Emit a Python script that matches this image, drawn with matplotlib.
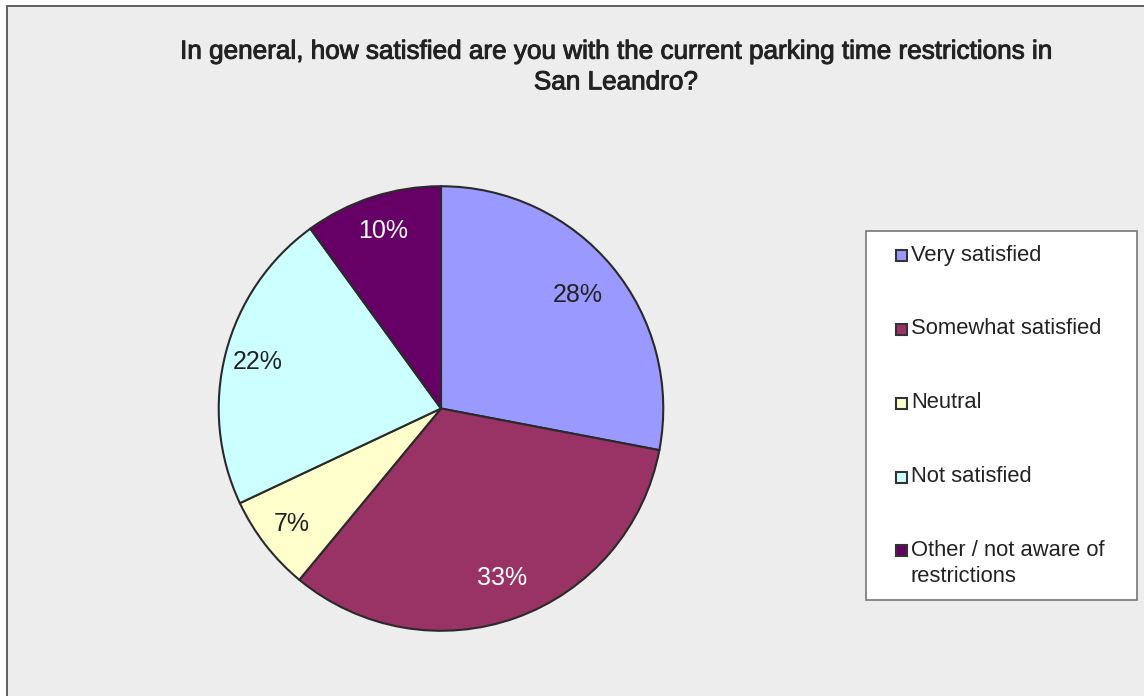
import matplotlib
matplotlib.use("Agg")
import matplotlib.pyplot as plt
from matplotlib.patches import Rectangle
import matplotlib.patheffects as pe
import numpy as np

categories = ["Very satisfied", "Somewhat satisfied", "Neutral", "Not satisfied",
              "Other / not aware of\nrestrictions"]
values = [28, 33, 7, 22, 10]
pct_labels = ["28%", "33%", "7%", "22%", "10%"]
colors = ["#9999FF", "#993366", "#FFFFCC", "#CCFFFF", "#660066"]
label_colors = ["#222222", "#FFFFFF", "#222222", "#222222", "#FFFFFF"]
title = "In general, how satisfied are you with the current parking time restrictions in\nSan Leandro?"

plt.rcParams['font.family'] = ['Liberation Sans', 'DejaVu Sans']

W, H = 1144, 696
fig = plt.figure(figsize=(W / 100, H / 100), dpi=100)
fig.patch.set_facecolor("white")

def fx(px):
    return px / W

def fy(py):
    return 1 - py / H

# Chart area background with border
fig.patches.append(Rectangle((fx(7), fy(H + 10)), fx(W + 20) - fx(7), fy(6) - fy(H + 10),
                             transform=fig.transFigure, facecolor="#EDEDED",
                             edgecolor="#555555", linewidth=1.3, zorder=-10))

# Pie
cx, cy, r = 441, 408.5, 224.5
ax = fig.add_axes([fx(cx - r), fy(cy + r), (2 * r) / W, (2 * r) / H])
ax.set_zorder(2)
ax.set_facecolor("none")
wedges, _ = ax.pie(values, colors=colors, startangle=90, counterclock=False,
                   wedgeprops=dict(edgecolor="#2a2a2a", linewidth=1.5),
                   radius=1)
ax.set_xlim(-1.01, 1.01)
ax.set_ylim(-1.01, 1.01)
ax.set_aspect("auto")
ax.axis("off")

dists = [0.8, 0.81, 0.85, 0.85, 0.84]
for w, lab, col, d in zip(wedges, pct_labels, label_colors, dists):
    ang = np.deg2rad((w.theta1 + w.theta2) / 2)
    ax.text(d * np.cos(ang), d * np.sin(ang), lab, ha="center", va="center",
            fontsize=18, color=col)

# Title
fig.text(fx(616), fy(67), title, ha="center", va="center", fontsize=18.8,
         color="#222222", linespacing=1.35,
         path_effects=[pe.withStroke(linewidth=0.7, foreground="#222222")])

# Legend box
lx0, ly0, lx1, ly1 = 866, 231, 1137, 600
fig.patches.append(Rectangle((fx(lx0), fy(ly1)), fx(lx1) - fx(lx0), fy(ly0) - fy(ly1),
                             transform=fig.transFigure, facecolor="white",
                             edgecolor="#777777", linewidth=1.2, zorder=1))
ys = [255, 329, 403, 477, 550]
msize = 11
for lab, col, yy in zip(categories, colors, ys):
    fig.patches.append(Rectangle((fx(896), fy(yy + msize / 2)), msize / W, msize / H,
                                 transform=fig.transFigure, facecolor=col,
                                 edgecolor="#333333", linewidth=1.5, zorder=2))
    if "\n" in lab:
        fig.text(fx(911), fy(yy - 10), lab, ha="left", va="top",
                 fontsize=15.8, color="#222222", linespacing=1.3, zorder=3)
    else:
        fig.text(fx(911), fy(yy), lab, ha="left", va="center",
                 fontsize=15.8, color="#222222", zorder=3)

fig.savefig("out.png", dpi=100, facecolor=fig.get_facecolor())
